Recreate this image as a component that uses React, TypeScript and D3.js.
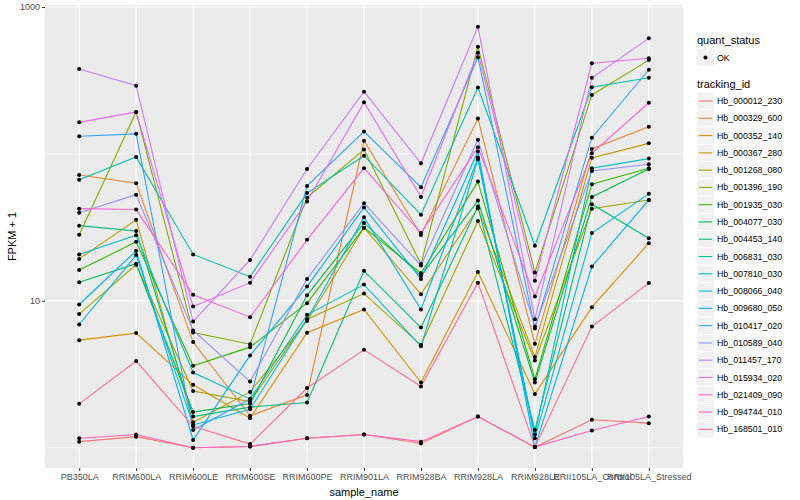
import * as d3 from 'd3';
import { useEffect, useRef } from 'react';

const samples = [
  'PB350LA', 'RRIM600LA', 'RRIM600LE', 'RRIM600SE', 'RRIM600PE', 'RRIM901LA',
  'RRIM928BA', 'RRIM928LA', 'RRIM928LE', 'RRII105LA_Control', 'RRII105LA_Stressed',
];

const trackingIds = [
  'Hb_000012_230', 'Hb_000329_600', 'Hb_000352_140', 'Hb_000367_280', 'Hb_001268_080',
  'Hb_001396_190', 'Hb_001935_030', 'Hb_004077_030', 'Hb_004453_140', 'Hb_006831_030',
  'Hb_007810_030', 'Hb_008066_040', 'Hb_009680_050', 'Hb_010417_020', 'Hb_010589_040',
  'Hb_011457_170', 'Hb_015934_020', 'Hb_021409_090', 'Hb_094744_010', 'Hb_168501_010',
];

// FPKM + 1, one row per tracking_id, one value per sample
const fpkm: number[][] = [
  [1.10, 1.19, 1.00, 1.02, 1.16, 1.23, 1.07, 1.63, 1.01, 1.55, 1.47],
  [71.9, 63.2, 5.24, 1.65, 2.29, 123, 28.1, 174, 5.1, 108, 153],
  [5.4, 6.03, 2.68, 1.59, 6.06, 8.73, 2.78, 15.7, 2.32, 9.06, 24.7],
  [19.3, 35.6, 1.49, 2.4, 7.3, 31.5, 11.1, 42.7, 4.14, 94, 118],
  [8.12, 17.6, 2.43, 2.06, 7.5, 11.2, 5.0, 35, 3.93, 42.3, 48.6],
  [28.2, 193, 6.08, 5.07, 50.4, 107, 17.8, 537, 15.6, 252, 435],
  [16.2, 25.2, 3.61, 4.84, 9.64, 31.5, 15.4, 64.8, 2.93, 62.2, 80],
  [13.4, 17.9, 1.75, 2.0, 10.9, 33.9, 14.8, 48.1, 2.78, 51, 79],
  [32.5, 29.9, 1.63, 1.89, 2.03, 16.0, 6.58, 43.8, 1.32, 45.5, 26.7],
  [66.8, 95.4, 20.7, 14.6, 54.1, 97.3, 38.6, 283, 23.7, 284, 330],
  [20.7, 28.0, 3.25, 2.15, 8.03, 12.9, 4.9, 92, 1.23, 80, 92.9],
  [6.9, 20.5, 1.43, 1.83, 7.5, 37.1, 8.73, 94.4, 1.16, 28.9, 53.5],
  [9.44, 21.9, 1.13, 4.25, 12.5, 43.2, 14.1, 104, 1.01, 17.1, 48.6],
  [132, 137, 1.32, 2.15, 60.6, 142, 59.3, 455, 6.47, 129, 374],
  [39.8, 52.8, 6.28, 2.82, 14.1, 46.2, 17.4, 125, 6.68, 76.6, 85.1],
  [379, 291.5, 7.23, 19.0, 79, 265, 86.3, 735, 7.5, 330, 612],
  [164, 193, 9.15, 13.3, 47.4, 225, 50.9, 489, 13.7, 414, 448],
  [42.4, 41.8, 10.99, 7.74, 26.0, 80, 28.9, 111, 10.7, 101, 223],
  [1.16, 1.23, 1.00, 1.02, 1.16, 1.23, 1.10, 1.63, 1.01, 1.31, 1.63],
  [1.99, 3.89, 1.40, 1.06, 2.55, 4.64, 2.61, 13.3, 1.01, 6.68, 13.2],
];

const yMajor = [10, 1000];
const yMinor = [1, 100];

// ggplot default hue palette for 20 levels
const palette = [
  '#F8766D', '#EA8331', '#D89000', '#C09B00', '#A3A500', '#7CAE00', '#39B600',
  '#00BB4E', '#00BF7D', '#00C1A3', '#00BFC4', '#00BAE0', '#00B0F6', '#35A2FF',
  '#9590FF', '#C77CFF', '#E76BF3', '#FA62DB', '#FF62BC', '#FF6C91',
];

const FONT = '"Liberation Sans", Arial, sans-serif';

export default function App() {
  const ref = useRef<SVGSVGElement | null>(null);

  useEffect(() => {
    if (!ref.current) return;
    const svg = d3.select(ref.current);
    svg.selectAll('*').remove();

    const panel = { left: 45, right: 683, top: 5, bottom: 468 };

    const x = d3
      .scalePoint<string>()
      .domain(samples)
      .range([panel.left, panel.right])
      .padding(0.6);

    const y = d3.scaleLog().domain([0.728, 1032]).range([panel.bottom, panel.top]);

    svg
      .append('rect')
      .attr('x', panel.left)
      .attr('y', panel.top)
      .attr('width', panel.right - panel.left)
      .attr('height', panel.bottom - panel.top)
      .attr('fill', '#EBEBEB');

    const grid = svg.append('g');
    grid
      .selectAll('line.minor')
      .data(yMinor)
      .join('line')
      .attr('x1', panel.left)
      .attr('x2', panel.right)
      .attr('y1', (d) => y(d))
      .attr('y2', (d) => y(d))
      .attr('stroke', '#fff')
      .attr('stroke-width', 0.55);
    grid
      .selectAll('line.major')
      .data(yMajor)
      .join('line')
      .attr('x1', panel.left)
      .attr('x2', panel.right)
      .attr('y1', (d) => y(d))
      .attr('y2', (d) => y(d))
      .attr('stroke', '#fff')
      .attr('stroke-width', 1.1);
    grid
      .selectAll('line.xg')
      .data(samples)
      .join('line')
      .attr('x1', (d) => x(d)!)
      .attr('x2', (d) => x(d)!)
      .attr('y1', panel.top)
      .attr('y2', panel.bottom)
      .attr('stroke', '#fff')
      .attr('stroke-width', 1.1);

    const line = d3
      .line<number>()
      .x((_, i) => x(samples[i])!)
      .y((d) => y(d));

    svg
      .append('g')
      .selectAll('path')
      .data(fpkm)
      .join('path')
      .attr('d', (d) => line(d))
      .attr('fill', 'none')
      .attr('stroke', (_, i) => palette[i])
      .attr('stroke-width', 1.1);

    const pts = fpkm.flatMap((row) => row.map((v, i) => ({ s: samples[i], v })));
    svg
      .append('g')
      .selectAll('circle')
      .data(pts)
      .join('circle')
      .attr('cx', (d) => x(d.s)!)
      .attr('cy', (d) => y(d.v))
      .attr('r', 2)
      .attr('fill', '#000');

    // axes
    const yAxis = svg
      .append('g')
      .attr('transform', `translate(${panel.left},0)`)
      .call(d3.axisLeft(y).tickValues(yMajor).tickFormat(d3.format('d')).tickSize(3).tickPadding(2));
    yAxis.select('.domain').remove();
    yAxis.selectAll('line').attr('stroke', '#333');
    yAxis.selectAll('text').attr('fill', '#4D4D4D').attr('font-size', 9).attr('font-family', FONT);

    const xAxis = svg
      .append('g')
      .attr('transform', `translate(0,${panel.bottom})`)
      .call(d3.axisBottom(x).tickSize(3).tickPadding(3));
    xAxis.select('.domain').remove();
    xAxis.selectAll('line').attr('stroke', '#333');
    xAxis.selectAll('text').attr('fill', '#4D4D4D').attr('font-size', 9).attr('font-family', FONT);

    svg
      .append('text')
      .attr('x', (panel.left + panel.right) / 2)
      .attr('y', 496)
      .attr('text-anchor', 'middle')
      .attr('font-size', 11)
      .attr('font-family', FONT)
      .text('sample_name');

    svg
      .append('text')
      .attr('transform', `translate(16,${(panel.top + panel.bottom) / 2}) rotate(-90)`)
      .attr('text-anchor', 'middle')
      .attr('font-size', 11)
      .attr('font-family', FONT)
      .text('FPKM + 1');

    // legends
    const lg = svg.append('g').attr('transform', 'translate(697,0)');
    lg.append('text')
      .attr('x', 0)
      .attr('y', 44)
      .attr('font-size', 11)
      .attr('font-family', FONT)
      .text('quant_status');
    lg.append('rect').attr('x', 0).attr('y', 49).attr('width', 17).attr('height', 17).attr('fill', '#F2F2F2');
    lg.append('circle').attr('cx', 8.5).attr('cy', 57.5).attr('r', 2).attr('fill', '#000');
    lg.append('text')
      .attr('x', 20)
      .attr('y', 60.5)
      .attr('font-size', 8.8)
      .attr('font-family', FONT)
      .text('OK');

    lg.append('text')
      .attr('x', 0)
      .attr('y', 88)
      .attr('font-size', 11)
      .attr('font-family', FONT)
      .text('tracking_id');

    const keyY = d3
      .scaleBand<string>()
      .domain(trackingIds)
      .range([92.5, 92.5 + 17.28 * trackingIds.length]);

    const keys = lg
      .selectAll('g.key')
      .data(trackingIds)
      .join('g')
      .attr('transform', (d) => `translate(0,${keyY(d)})`);
    keys.append('rect').attr('width', 17).attr('height', 17).attr('fill', '#F2F2F2').attr('stroke', '#fff').attr('stroke-width', 0.5);
    keys
      .append('line')
      .attr('x1', 1.7)
      .attr('x2', 15.3)
      .attr('y1', 8.5)
      .attr('y2', 8.5)
      .attr('stroke', (_, i) => palette[i])
      .attr('stroke-width', 1.1);
    keys
      .append('text')
      .attr('x', 20)
      .attr('y', 11.6)
      .attr('font-size', 8.8)
      .attr('font-family', FONT)
      .text((d) => d);
  }, []);

  return (
    <div style={{ position: 'absolute', left: 0, top: 0 }}>
      <svg ref={ref} width={800} height={500} style={{ display: 'block', background: '#fff' }} />
    </div>
  );
}
